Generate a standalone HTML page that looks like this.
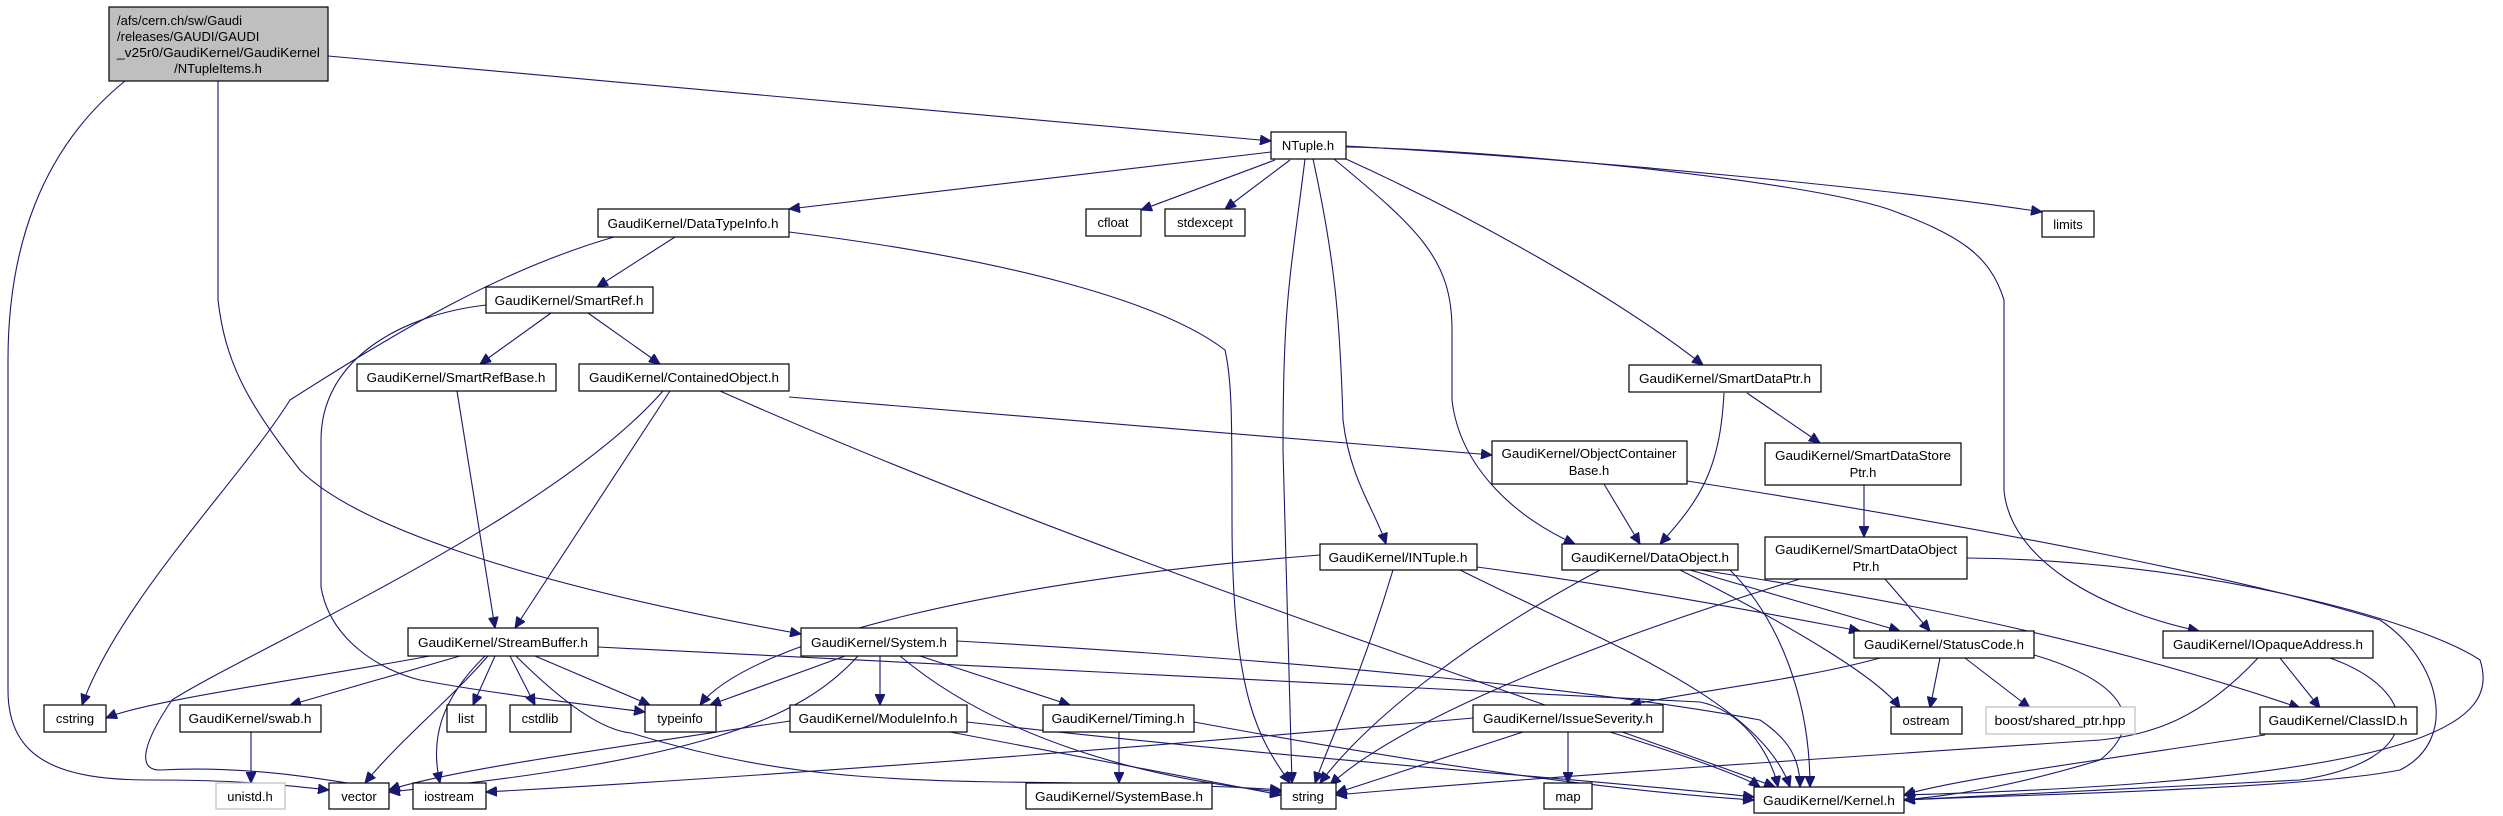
<!DOCTYPE html>
<html><head><meta charset="utf-8"><style>
html,body{margin:0;padding:0;background:#fff;}
svg{display:block;}
text{font-family:"Liberation Sans",sans-serif;font-size:13px;fill:#000;}
.e{fill:none;stroke:#191970;stroke-width:1.1;}
.n{fill:#fff;stroke:#000;stroke-width:1.2;}
.g{fill:#fff;stroke:#bfbfbf;stroke-width:1.2;}
</style></head><body>
<svg width="2503" height="816" viewBox="0 0 2503 816" xmlns="http://www.w3.org/2000/svg">
<defs>
<marker id="a" markerUnits="userSpaceOnUse" markerWidth="12" markerHeight="10" refX="11" refY="5" orient="auto">
<path d="M0,0 L11,5 L0,10 Z" fill="#191970" stroke="#191970"/>
</marker>
</defs>
<g class="e" marker-end="url(#a)">
<path d="M328,56 L1271,141"/>
<path d="M125,81 C40,150 8,250 8,360 L8,690 C8,760 60,780 150,780 C250,780 290,786 329,790"/>
<path d="M218,81 L218,300 C225,360 245,400 300,470 C350,520 500,580 801,634"/>
<path d="M1271,152 L789,209"/>
<path d="M1275,160 L1141,210"/>
<path d="M1290,160 L1225,209"/>
<path d="M1305,159 C1290,280 1283,300 1283,450 L1292,783"/>
<path d="M1313,159 C1335,260 1340,320 1343,420 C1350,480 1375,510 1386,544"/>
<path d="M1334,159 C1420,230 1452,260 1452,330 L1452,400 C1460,470 1520,520 1575,544"/>
<path d="M1346,159 C1480,220 1620,300 1703,365"/>
<path d="M1346,147 C1500,150 1800,180 1888,209 C1960,235 1990,255 2004,300 L2004,490 C2010,560 2100,610 2199,631"/>
<path d="M1346,146 C1600,160 1900,190 2042,212"/>
<path d="M675,237 L597,287"/>
<path d="M614,237 C500,270 400,330 290,400 C240,480 120,600 82,705"/>
<path d="M789,232 C1000,258 1160,300 1225,350 C1232,380 1232,420 1232,520 C1232,700 1260,740 1290,783"/>
<path d="M551,313 L480,364"/>
<path d="M588,313 L660,364"/>
<path d="M486,305 C400,315 321,360 321,440 L321,587 C330,640 380,670 420,680 C500,695 600,706 645,712"/>
<path d="M457,391 L495,628"/>
<path d="M670,391 L515,628"/>
<path d="M789,397 L1492,455"/>
<path d="M720,391 C1100,560 1600,720 1775,787"/>
<path d="M663,391 C550,520 250,650 172,700 C145,740 135,770 160,770 C250,765 330,780 389,790"/>
<path d="M430,656 C300,680 150,700 106,718"/>
<path d="M460,656 L290,705"/>
<path d="M495,656 L473,705"/>
<path d="M510,656 L535,705"/>
<path d="M535,656 L650,705"/>
<path d="M488,656 C450,700 400,740 365,783"/>
<path d="M485,656 C440,700 430,740 440,783"/>
<path d="M516,656 C560,700 600,730 631,733 C750,770 850,780 1000,782 C1150,784 1230,786 1281,790"/>
<path d="M598,647 L1700,702 C1740,710 1770,750 1778,787"/>
<path d="M251,732 L251,783"/>
<path d="M845,656 L710,705"/>
<path d="M880,656 L880,705"/>
<path d="M920,656 L1070,705"/>
<path d="M900,656 C1000,740 1150,780 1281,792"/>
<path d="M858,656 C800,720 700,760 389,792"/>
<path d="M957,641 C1300,660 1600,690 1760,720 C1790,740 1800,760 1800,787"/>
<path d="M950,732 L1281,795"/>
<path d="M790,721 C600,750 450,770 389,790"/>
<path d="M967,722 C1300,760 1600,780 1754,797"/>
<path d="M1119,732 L1119,783"/>
<path d="M1194,722 C1400,760 1600,790 1754,800"/>
<path d="M1724,393 C1720,470 1700,500 1660,544"/>
<path d="M1747,393 L1820,443"/>
<path d="M1864,485 L1864,537"/>
<path d="M1604,484 L1640,544"/>
<path d="M1687,481 C2000,530 2250,580 2380,620 C2440,660 2460,740 2400,770 C2300,790 2000,795 1904,800"/>
<path d="M1320,555 C1000,580 750,640 700,705"/>
<path d="M1393,570 C1360,680 1330,740 1315,783"/>
<path d="M1477,567 C1650,590 1800,620 1860,631"/>
<path d="M1460,570 C1600,640 1760,700 1790,787"/>
<path d="M1600,570 C1450,650 1360,730 1320,783"/>
<path d="M1690,570 L1900,631"/>
<path d="M1700,570 C1900,600 2100,640 2300,708"/>
<path d="M1680,570 C1800,630 1880,680 1900,708"/>
<path d="M1730,570 C1780,620 1810,700 1810,787"/>
<path d="M1885,579 L1930,631"/>
<path d="M1800,579 C1600,640 1400,720 1330,785"/>
<path d="M1967,558 C2200,560 2420,620 2480,660 C2500,720 2440,780 1904,795"/>
<path d="M1880,658 C1800,680 1700,690 1630,705"/>
<path d="M1940,658 L1930,708"/>
<path d="M1965,658 L2030,708"/>
<path d="M2034,655 C2120,680 2150,720 2100,760 C2000,790 1950,795 1904,800"/>
<path d="M1568,732 L1568,783"/>
<path d="M1523,732 L1336,793"/>
<path d="M1610,732 C1700,760 1750,780 1760,787"/>
<path d="M1473,718 C1000,760 700,780 486,792"/>
<path d="M2280,658 L2320,708"/>
<path d="M2330,658 C2420,690 2430,760 2300,780 L1904,800"/>
<path d="M2258,658 C2200,720 2150,735 2100,740 C1800,760 1500,780 1336,795"/>
<path d="M2265,735 C2100,760 1950,780 1904,795"/>
</g>

<rect x="109" y="7" width="219" height="74" fill="#bfbfbf" stroke="#000" stroke-width="1.2"/>
<text x="117" y="25">/afs/cern.ch/sw/Gaudi</text>
<text x="117" y="41">/releases/GAUDI/GAUDI</text>
<text x="117" y="57" textLength="203" lengthAdjust="spacingAndGlyphs">_v25r0/GaudiKernel/GaudiKernel</text>
<text x="218" y="73" text-anchor="middle">/NTupleItems.h</text>

<g>
<rect class="n" x="1271" y="132" width="75" height="27"/><text x="1308" y="150" text-anchor="middle">NTuple.h</text>
<rect class="n" x="598" y="209" width="191" height="28"/><text x="693" y="228" text-anchor="middle" textLength="171" lengthAdjust="spacingAndGlyphs">GaudiKernel/DataTypeInfo.h</text>
<rect class="n" x="1086" y="209" width="55" height="27"/><text x="1113" y="227" text-anchor="middle">cfloat</text>
<rect class="n" x="1165" y="209" width="80" height="27"/><text x="1205" y="227" text-anchor="middle">stdexcept</text>
<rect class="n" x="2042" y="211" width="52" height="26"/><text x="2068" y="229" text-anchor="middle">limits</text>
<rect class="n" x="486" y="287" width="167" height="26"/><text x="569" y="305" text-anchor="middle" textLength="149" lengthAdjust="spacingAndGlyphs">GaudiKernel/SmartRef.h</text>
<rect class="n" x="357" y="364" width="199" height="27"/><text x="456" y="382" text-anchor="middle" textLength="179" lengthAdjust="spacingAndGlyphs">GaudiKernel/SmartRefBase.h</text>
<rect class="n" x="579" y="364" width="210" height="27"/><text x="684" y="382" text-anchor="middle" textLength="190" lengthAdjust="spacingAndGlyphs">GaudiKernel/ContainedObject.h</text>
<rect class="n" x="1629" y="365" width="192" height="27"/><text x="1725" y="383" text-anchor="middle" textLength="172" lengthAdjust="spacingAndGlyphs">GaudiKernel/SmartDataPtr.h</text>
<rect class="n" x="1492" y="441" width="195" height="43"/><text x="1589" y="458" text-anchor="middle" textLength="175" lengthAdjust="spacingAndGlyphs">GaudiKernel/ObjectContainer</text><text x="1589" y="475" text-anchor="middle">Base.h</text>
<rect class="n" x="1765" y="443" width="196" height="42"/><text x="1863" y="460" text-anchor="middle" textLength="176" lengthAdjust="spacingAndGlyphs">GaudiKernel/SmartDataStore</text><text x="1863" y="477" text-anchor="middle">Ptr.h</text>
<rect class="n" x="1320" y="544" width="157" height="26"/><text x="1398" y="562" text-anchor="middle" textLength="139" lengthAdjust="spacingAndGlyphs">GaudiKernel/INTuple.h</text>
<rect class="n" x="1562" y="544" width="176" height="26"/><text x="1650" y="562" text-anchor="middle" textLength="158" lengthAdjust="spacingAndGlyphs">GaudiKernel/DataObject.h</text>
<rect class="n" x="1765" y="537" width="202" height="42"/><text x="1866" y="554" text-anchor="middle" textLength="182" lengthAdjust="spacingAndGlyphs">GaudiKernel/SmartDataObject</text><text x="1866" y="571" text-anchor="middle">Ptr.h</text>
<rect class="n" x="408" y="628" width="190" height="28"/><text x="503" y="647" text-anchor="middle" textLength="170" lengthAdjust="spacingAndGlyphs">GaudiKernel/StreamBuffer.h</text>
<rect class="n" x="801" y="628" width="156" height="28"/><text x="879" y="647" text-anchor="middle" textLength="136" lengthAdjust="spacingAndGlyphs">GaudiKernel/System.h</text>
<rect class="n" x="1854" y="631" width="180" height="27"/><text x="1944" y="649" text-anchor="middle" textLength="160" lengthAdjust="spacingAndGlyphs">GaudiKernel/StatusCode.h</text>
<rect class="n" x="2163" y="631" width="210" height="27"/><text x="2268" y="649" text-anchor="middle" textLength="190" lengthAdjust="spacingAndGlyphs">GaudiKernel/IOpaqueAddress.h</text>
<rect class="n" x="44" y="705" width="62" height="27"/><text x="75" y="723" text-anchor="middle">cstring</text>
<rect class="n" x="180" y="705" width="141" height="27"/><text x="250" y="723" text-anchor="middle" textLength="123" lengthAdjust="spacingAndGlyphs">GaudiKernel/swab.h</text>
<rect class="n" x="447" y="705" width="39" height="27"/><text x="466" y="723" text-anchor="middle">list</text>
<rect class="n" x="510" y="705" width="61" height="27"/><text x="540" y="723" text-anchor="middle">cstdlib</text>
<rect class="n" x="645" y="705" width="71" height="27"/><text x="680" y="723" text-anchor="middle">typeinfo</text>
<rect class="n" x="790" y="705" width="177" height="27"/><text x="878" y="723" text-anchor="middle" textLength="159" lengthAdjust="spacingAndGlyphs">GaudiKernel/ModuleInfo.h</text>
<rect class="n" x="1043" y="705" width="151" height="27"/><text x="1118" y="723" text-anchor="middle" textLength="133" lengthAdjust="spacingAndGlyphs">GaudiKernel/Timing.h</text>
<rect class="n" x="1473" y="705" width="190" height="27"/><text x="1568" y="723" text-anchor="middle" textLength="170" lengthAdjust="spacingAndGlyphs">GaudiKernel/IssueSeverity.h</text>
<rect class="n" x="1891" y="707" width="71" height="27"/><text x="1926" y="725" text-anchor="middle">ostream</text>
<rect class="g" x="1986" y="707" width="149" height="27"/><text x="2060" y="725" text-anchor="middle" textLength="131" lengthAdjust="spacingAndGlyphs">boost/shared_ptr.hpp</text>
<rect class="n" x="2260" y="707" width="157" height="27"/><text x="2338" y="725" text-anchor="middle" textLength="139" lengthAdjust="spacingAndGlyphs">GaudiKernel/ClassID.h</text>
<rect class="g" x="216" y="783" width="69" height="26"/><text x="250" y="801" text-anchor="middle">unistd.h</text>
<rect class="n" x="329" y="783" width="60" height="26"/><text x="359" y="801" text-anchor="middle">vector</text>
<rect class="n" x="413" y="783" width="73" height="26"/><text x="449" y="801" text-anchor="middle">iostream</text>
<rect class="n" x="1026" y="783" width="186" height="26"/><text x="1119" y="801" text-anchor="middle" textLength="168" lengthAdjust="spacingAndGlyphs">GaudiKernel/SystemBase.h</text>
<rect class="n" x="1281" y="783" width="55" height="26"/><text x="1308" y="801" text-anchor="middle">string</text>
<rect class="n" x="1544" y="783" width="48" height="26"/><text x="1568" y="801" text-anchor="middle">map</text>
<rect class="n" x="1754" y="787" width="150" height="26"/><text x="1829" y="805" text-anchor="middle" textLength="132" lengthAdjust="spacingAndGlyphs">GaudiKernel/Kernel.h</text>
</g>
</svg>
</body></html>
